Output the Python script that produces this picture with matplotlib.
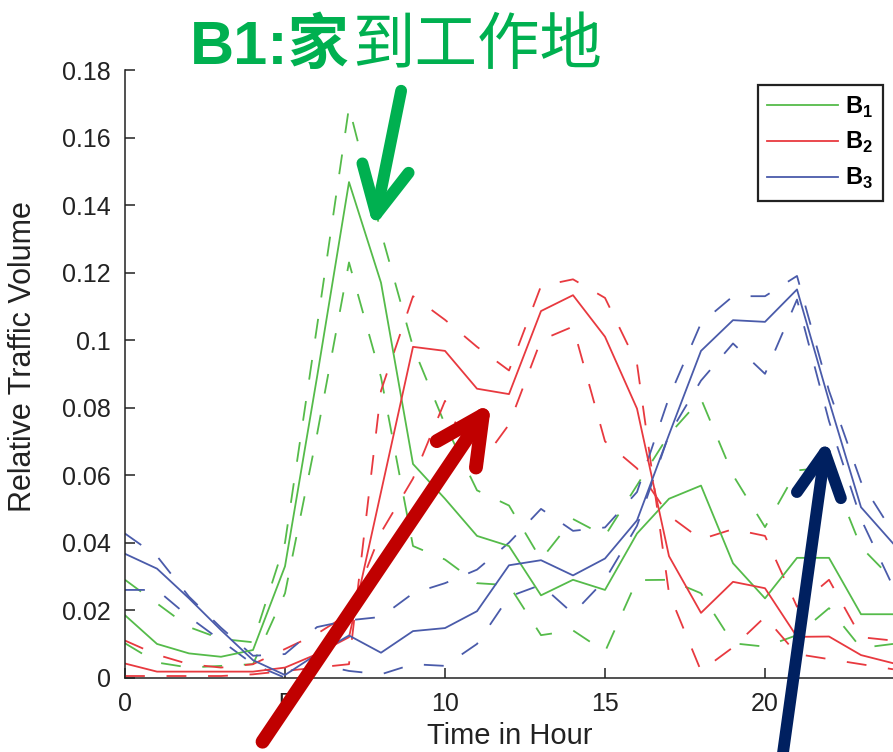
import matplotlib
matplotlib.use("Agg")
import matplotlib.pyplot as plt
from matplotlib.patches import FancyArrowPatch
import numpy as np

plt.rcParams['font.family'] = ['Liberation Sans', 'Noto Sans CJK SC', 'DejaVu Sans']
plt.rcParams['mathtext.fontset'] = 'custom'
plt.rcParams['mathtext.rm'] = 'Liberation Sans'
plt.rcParams['mathtext.bf'] = 'Liberation Sans:bold'

# ---------------- data ----------------
hours = list(range(25))
x_ticks = [0, 5, 10, 15, 20]
y_ticks = [0, 0.02, 0.04, 0.06, 0.08, 0.1, 0.12, 0.14, 0.16, 0.18]
y_tick_labels = ["0", "0.02", "0.04", "0.06", "0.08", "0.1", "0.12", "0.14", "0.16", "0.18"]
series_labels = [r"$\mathbf{B}_{\mathbf{1}}$", r"$\mathbf{B}_{\mathbf{2}}$", r"$\mathbf{B}_{\mathbf{3}}$"]

b1_mean = [0.0185, 0.0100, 0.0072, 0.0062, 0.0082, 0.0330, 0.0890, 0.1468, 0.1170, 0.0633,
           0.0530, 0.0420, 0.0390, 0.0244, 0.0290, 0.0260, 0.0427, 0.0530, 0.0569, 0.0339,
           0.0235, 0.0355, 0.0355, 0.0188, 0.0188]
b1_up = [0.0290, 0.0220, 0.0150, 0.0115, 0.0105, 0.0400, 0.1040, 0.1690, 0.1320, 0.0980,
         0.0750, 0.0555, 0.0510, 0.0350, 0.0470, 0.0420, 0.0570, 0.0720, 0.0826, 0.0600,
         0.0446, 0.0614, 0.0623, 0.0387, 0.0290]
b1_lo = [0.0102, 0.0045, 0.0030, 0.0035, 0.0040, 0.0250, 0.0720, 0.1230, 0.0890, 0.0390,
         0.0350, 0.0280, 0.0274, 0.0126, 0.0140, 0.0077, 0.0289, 0.0290, 0.0250, 0.0102,
         0.0092, 0.0126, 0.0206, 0.0088, 0.0100]

b2_mean = [0.0042, 0.0018, 0.0018, 0.0018, 0.0018, 0.0030, 0.0070, 0.0120, 0.0550, 0.0980,
           0.0968, 0.0856, 0.0840, 0.1086, 0.1133, 0.1010, 0.0797, 0.0360, 0.0192, 0.0284,
           0.0265, 0.0121, 0.0122, 0.0067, 0.0043]
b2_a = [0.0110, 0.0068, 0.0040, 0.0030, 0.0040, 0.0085, 0.0130, 0.0190, 0.0430, 0.0590,
        0.0820, 0.0620, 0.0750, 0.1000, 0.1040, 0.0700, 0.0620, 0.0480, 0.0410, 0.0440,
        0.0420, 0.0210, 0.0290, 0.0120, 0.0110]
b2_b = [0.0005, 0.0005, 0.0005, 0.0005, 0.0010, 0.0020, 0.0030, 0.0040, 0.0850, 0.1130,
        0.1060, 0.0980, 0.0910, 0.1160, 0.1180, 0.1125, 0.0930, 0.0250, 0.0020, 0.0090,
        0.0180, 0.0070, 0.0055, 0.0040, 0.0025]

b3_mean = [0.0367, 0.0323, 0.0235, 0.0141, 0.0052, 0.0008, 0.0070, 0.0125, 0.0074, 0.0138,
           0.0147, 0.0197, 0.0333, 0.0348, 0.0303, 0.0353, 0.0466, 0.0720, 0.0968, 0.1059,
           0.1054, 0.1150, 0.0820, 0.0505, 0.0398]
b3_up = [0.0427, 0.0360, 0.0240, 0.0148, 0.0065, 0.0070, 0.0150, 0.0170, 0.0180, 0.0250,
         0.0280, 0.0320, 0.0400, 0.0500, 0.0435, 0.0445, 0.0550, 0.0830, 0.1050, 0.1130,
         0.1130, 0.1190, 0.0850, 0.0580, 0.0430]
b3_lo = [0.0260, 0.0260, 0.0180, 0.0110, 0.0040, 0.0000, 0.0040, 0.0020, 0.0010, 0.0040,
         0.0035, 0.0100, 0.0240, 0.0275, 0.0190, 0.0290, 0.0450, 0.0720, 0.0880, 0.0990,
         0.0900, 0.1120, 0.0760, 0.0470, 0.0270]

# ---------------- styles ----------------
GREEN = '#55BB4A'
RED = '#E8393F'
BLUE = '#4A5BAA'
W, H = 893, 752

fig = plt.figure(figsize=(W / 100, H / 100), dpi=100)
ax = fig.add_axes([125 / W, (H - 677.7) / H, 768 / W, 607.7 / H])

dash = (11, 12)
lw = 1.3
for vals, c in [(b1_up, GREEN), (b1_lo, GREEN), (b2_a, RED), (b2_b, RED), (b3_up, BLUE), (b3_lo, BLUE)]:
    ln, = ax.plot(hours, vals, color=c, lw=lw, solid_capstyle='butt')
    ln.set_dashes(dash)

handles = []
for vals, c in [(b1_mean, GREEN), (b2_mean, RED), (b3_mean, BLUE)]:
    ln, = ax.plot(hours, vals, color=c, lw=lw)
    handles.append(ln)

ax.set_xlim(0, 24)
ax.set_ylim(0, 0.18)
ax.set_xticks(x_ticks)
ax.set_xticklabels([str(t) for t in x_ticks])
ax.set_yticks(y_ticks)
ax.set_yticklabels(y_tick_labels)
ax.tick_params(direction='in', length=7, width=1.1, labelsize=18, pad=10,
               colors='#222222', labelcolor='#222222')
for s in ['top', 'right']:
    ax.spines[s].set_visible(False)
for s in ['left', 'bottom']:
    ax.spines[s].set_linewidth(1.1)
    ax.spines[s].set_color('#222222')

leg = fig.legend(handles, series_labels, loc='upper left',
                 bbox_to_anchor=(758 / W, 1 - 85 / H), bbox_transform=fig.transFigure,
                 fontsize=17, handlelength=3.0, handletextpad=0.3, labelspacing=0.45,
                 borderpad=0.4, borderaxespad=0, frameon=True, fancybox=False,
                 framealpha=1, edgecolor='#222222')
leg.get_frame().set_linewidth(1.6)

fig.text(23 / W, 1 - 357 / H, 'Relative Traffic Volume', rotation=90, fontsize=22,
         ha='center', va='center', color='#222222')
fig.text(510 / W, 1 - 750 / H, 'Time in Hour', fontsize=21, ha='center', va='bottom',
         color='#222222')

TGREEN = '#00B050'
fig.text(190 / W, 1 - 64 / H, 'B1:家', fontsize=44, fontweight='bold', color=TGREEN,
         ha='left', va='baseline', family=['Liberation Sans', 'Noto Sans CJK SC'])
fig.text(352 / W, 1 - 64 / H, '到工作地', fontsize=45, color=TGREEN,
         ha='left', va='baseline', family=['Noto Sans CJK SC'])


def px(x, y):
    return (x / W, 1 - y / H)


def arrow(tail, tip, color, lw_, hl, hw):
    a = FancyArrowPatch(px(*tail), px(*tip), transform=fig.transFigure,
                        arrowstyle=f'->,head_length={hl},head_width={hw}',
                        mutation_scale=1, color=color, lw=lw_,
                        capstyle='round', joinstyle='round', zorder=10)
    fig.add_artist(a)


arrow((401.7, 88), (373, 230), TGREEN, 8.5, 34, 17)
arrow((261, 744), (493, 400), '#C00000', 10, 34, 17)
arrow((782, 760), (827, 437), '#002060', 8.5, 31, 16)

fig.savefig('out.png', dpi=100)
